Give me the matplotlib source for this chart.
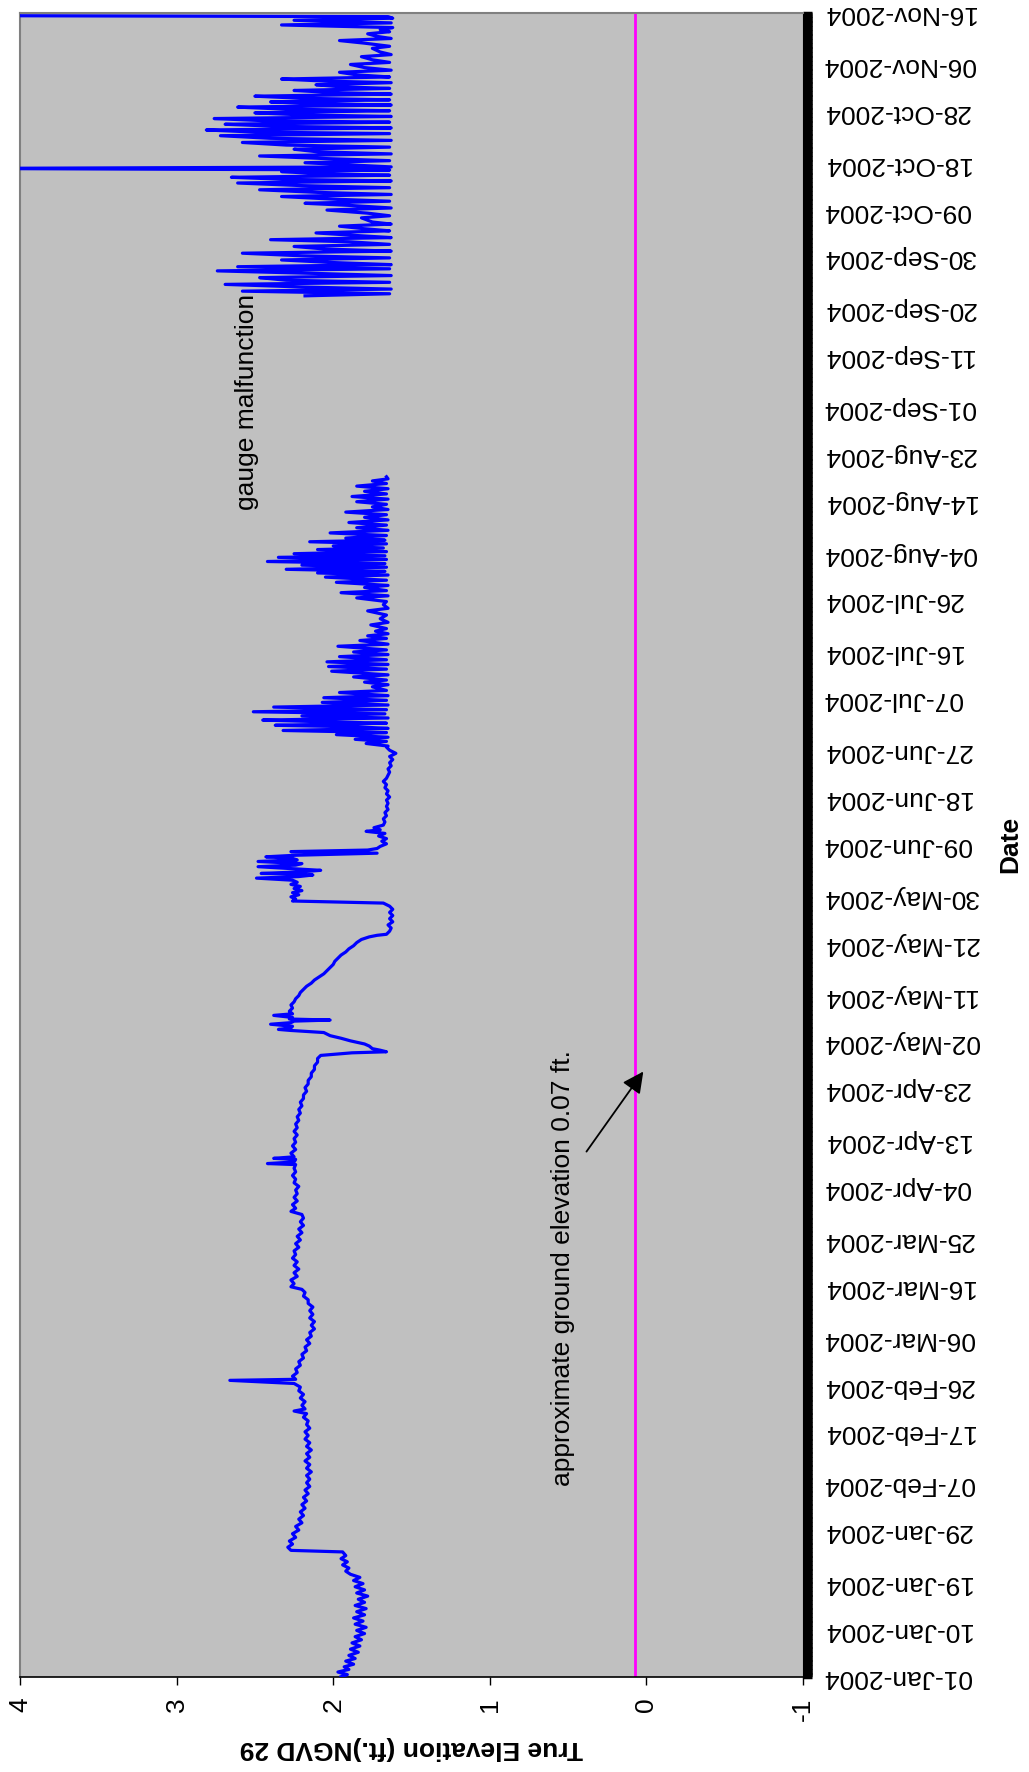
import numpy as np
import pandas as pd
import matplotlib
matplotlib.use('Agg')
import matplotlib.pyplot as plt
import matplotlib.dates as mdates
from matplotlib.ticker import FixedLocator

plt.rcParams['font.family'] = ['Liberation Sans', 'DejaVu Sans']
plt.rcParams['axes.unicode_minus'] = False

start = pd.Timestamp('2004-01-01')

# stage readings, days since 01-Jan-2004 / elevation in ft NGVD 29
winter_days = [0.0, 0.4, 0.9, 1.4, 1.9, 2.4, 3.0, 3.5, 4.1, 4.7, 5.3, 5.9, 6.5, 7.1, 7.7, 8.3, 8.9, 9.5,
               10.1, 10.7, 11.3, 11.9, 12.5, 13.1, 13.7, 14.3, 14.9, 15.5, 16.1, 16.7, 17.3, 17.9, 18.5,
               19.1, 19.7, 20.3, 20.9, 21.5, 22.1, 22.7, 23.3, 24.0, 24.3, 24.9, 25.5, 26.1, 26.8, 27.5,
               28.2, 28.9, 29.6, 30.3, 31.0, 31.7, 32.4, 33.1, 33.8, 34.5, 35.2, 35.9, 36.6, 37.3, 38.0,
               38.7, 39.4, 40.1, 40.8, 41.5, 42.2, 42.9, 43.6, 44.3, 45.0, 45.7, 46.4, 47.1, 47.8, 48.5,
               49.2, 49.9, 50.6, 51.1, 51.5, 52.2, 52.9, 53.6, 54.3, 55.0, 55.7, 56.4, 57.0, 57.2, 57.8,
               58.5, 59.2, 59.9, 60.6, 61.3, 62.0, 62.7, 63.4, 64.1, 64.8, 65.5, 66.2, 66.9, 67.6, 68.3,
               69.0, 69.7, 70.4, 71.1, 71.8, 72.5, 73.2, 73.9, 74.5, 75.0, 75.6, 76.3, 77.0, 77.7, 78.4,
               79.1, 79.8, 80.5, 81.2, 81.9, 82.6, 83.3, 84.0, 84.7, 85.4, 86.1, 86.8, 87.5, 88.2, 88.9,
               89.5, 90.1, 90.8, 91.5, 92.2, 92.9, 93.6, 94.3, 95.0, 95.7, 96.4, 97.1, 97.8, 98.5, 98.7,
               99.0, 99.5, 99.7, 100.0, 100.7, 101.4, 102.1, 102.8, 103.5, 104.2, 104.9, 105.6, 106.3,
               107.0, 107.7, 108.4, 109.1, 109.8, 110.5, 111.2, 111.9, 112.6, 113.3, 114.0, 114.7, 115.4,
               116.1, 116.8, 117.5, 118.2, 118.9, 119.5]
winter_elev = [1.95, 1.91, 1.97, 1.90, 1.93, 1.87, 1.92, 1.86, 1.90, 1.84, 1.89, 1.83, 1.88, 1.82, 1.86, 1.80,
               1.85, 1.79, 1.86, 1.81, 1.87, 1.80, 1.85, 1.79, 1.86, 1.80, 1.84, 1.78, 1.85, 1.80, 1.86, 1.81,
               1.87, 1.83, 1.89, 1.92, 1.90, 1.94, 1.91, 1.95, 1.92, 1.94, 2.27, 2.29, 2.26, 2.28, 2.24, 2.26,
               2.22, 2.24, 2.20, 2.22, 2.19, 2.21, 2.18, 2.20, 2.17, 2.19, 2.16, 2.18, 2.15, 2.17, 2.15, 2.17,
               2.14, 2.17, 2.15, 2.18, 2.15, 2.17, 2.14, 2.17, 2.15, 2.18, 2.16, 2.18, 2.15, 2.17, 2.16, 2.19,
               2.17, 2.25, 2.18, 2.20, 2.18, 2.21, 2.19, 2.22, 2.21, 2.25, 2.66, 2.24, 2.26, 2.23, 2.24, 2.21,
               2.22, 2.19, 2.20, 2.17, 2.18, 2.15, 2.17, 2.14, 2.15, 2.12, 2.14, 2.12, 2.15, 2.13, 2.15, 2.13,
               2.16, 2.16, 2.19, 2.18, 2.20, 2.27, 2.25, 2.27, 2.23, 2.25, 2.22, 2.25, 2.23, 2.26, 2.24, 2.25,
               2.22, 2.24, 2.21, 2.23, 2.20, 2.22, 2.19, 2.21, 2.19, 2.20, 2.27, 2.24, 2.26, 2.23, 2.25, 2.23,
               2.24, 2.22, 2.25, 2.24, 2.26, 2.24, 2.25, 2.24, 2.42, 2.25, 2.24, 2.38, 2.25, 2.27, 2.24, 2.26,
               2.24, 2.25, 2.23, 2.25, 2.23, 2.24, 2.22, 2.23, 2.21, 2.22, 2.20, 2.21, 2.19, 2.19, 2.17, 2.18,
               2.16, 2.16, 2.14, 2.14, 2.12, 2.12, 2.10, 2.10, 2.08]

spring_days = [120.0, 120.2, 120.5, 120.8, 121.3, 121.7, 122.3, 122.8, 123.3, 123.9, 124.3, 124.5, 124.8,
               125.1, 125.5, 125.8, 126.1, 126.3, 126.5, 126.8, 127.2, 127.5, 128.0, 128.6, 129.2, 129.8,
               130.4, 131.0, 131.6, 132.2, 132.8, 133.4, 134.0, 134.6, 135.2, 135.8, 136.4, 137.0, 137.6,
               138.2, 138.8, 139.4, 140.0, 140.6, 141.2, 141.8, 142.3, 142.6, 142.8, 143.4, 144.0, 144.6,
               145.2, 145.8, 146.4, 147.0, 147.6, 148.2, 148.8, 149.2, 149.6, 150.0, 150.4, 150.8, 151.2,
               151.6, 152.0, 152.4, 152.8, 153.2, 153.6, 153.9, 154.2, 154.4, 154.5, 154.8, 155.1, 155.4,
               155.8, 156.1, 156.4, 156.8, 157.1, 157.4, 157.7, 158.0, 158.4, 158.7, 159.0, 159.3, 159.7,
               160.2, 160.7, 161.2, 161.7, 162.2, 162.6, 162.9, 163.3, 163.8, 164.4, 165.0, 165.6, 166.2,
               166.8, 167.4, 168.0, 168.6, 169.2, 169.8, 170.4, 171.0, 171.6, 172.2, 172.8, 173.4, 174.0,
               174.6, 175.2, 175.8, 176.4, 177.0, 177.6, 178.2, 178.8]
spring_elev = [1.88, 1.66, 1.70, 1.75, 1.77, 1.80, 1.89, 1.95, 2.02, 2.06, 2.27, 2.35, 2.27, 2.26, 2.40, 2.27,
               2.25, 2.02, 2.28, 2.26, 2.38, 2.26, 2.28, 2.26, 2.27, 2.25, 2.24, 2.22, 2.21, 2.19, 2.17, 2.14,
               2.12, 2.09, 2.06, 2.04, 2.02, 2.00, 1.99, 1.97, 1.95, 1.92, 1.90, 1.87, 1.85, 1.82, 1.77, 1.72,
               1.66, 1.64, 1.63, 1.65, 1.62, 1.64, 1.62, 1.64, 1.62, 1.64, 1.68, 2.26, 2.24, 2.27, 2.22, 2.26,
               2.20, 2.25, 2.21, 2.27, 2.23, 2.26, 2.49, 2.22, 2.13, 2.24, 2.46, 2.21, 2.08, 2.25, 2.48, 2.24,
               2.20, 2.48, 2.23, 2.26, 2.43, 2.24, 1.72, 2.27, 1.78, 1.72, 1.70, 1.66, 1.69, 1.66, 1.71, 1.67,
               1.79, 1.70, 1.74, 1.68, 1.67, 1.68, 1.66, 1.67, 1.65, 1.66, 1.65, 1.66, 1.64, 1.66, 1.65, 1.67,
               1.66, 1.68, 1.66, 1.65, 1.64, 1.65, 1.63, 1.64, 1.62, 1.64, 1.60, 1.64, 1.66]

summer_days = [179.0, 179.5, 179.9, 180.3, 180.7, 181.2, 181.6, 182.0, 182.4, 182.7, 183.0, 183.4, 183.7,
               184.0, 184.4, 184.8, 185.2, 185.6, 186.0, 186.5, 186.9, 187.4, 187.8, 188.3, 188.7, 189.3,
               189.7, 190.4, 190.8, 191.3, 191.7, 192.3, 192.7, 193.4, 193.8, 194.3, 194.7, 195.2, 195.6,
               196.2, 196.6, 197.1, 197.5, 198.2, 198.6, 199.3, 199.7, 200.2, 200.6, 201.1, 201.6, 202.3,
               202.8, 203.5, 204.2, 205.0, 205.5, 206.2, 206.8, 207.5, 207.9, 208.5, 208.9, 209.5, 209.9,
               210.5, 210.9, 211.5, 211.9, 212.3, 212.6, 213.0, 213.4, 213.8, 214.1, 214.5, 214.9, 215.3,
               215.6, 216.0, 216.4, 216.8, 217.1, 217.5, 217.9, 218.3, 218.6, 219.0, 219.5, 220.0, 220.5,
               221.0, 221.5, 222.0, 222.5, 223.0, 223.5, 224.0, 224.5, 225.0, 225.5, 226.0, 226.5, 227.0,
               227.5, 228.0, 228.5, 229.0, 229.5, 230.0, 230.4, 230.8]
summer_elev = [1.65, 1.79, 1.66, 1.86, 1.65, 1.98, 1.66, 2.32, 1.65, 1.85, 2.37, 1.66, 2.10, 2.45, 1.65, 2.20,
               1.67, 2.51, 1.66, 2.38, 1.65, 2.07, 1.66, 2.06, 1.65, 1.96, 1.66, 1.75, 1.65, 1.80, 1.66, 1.87,
               1.65, 2.01, 1.66, 2.03, 1.65, 2.04, 1.66, 1.96, 1.65, 1.87, 1.66, 1.97, 1.65, 1.83, 1.66, 1.78,
               1.65, 1.73, 1.66, 1.76, 1.65, 1.70, 1.66, 1.78, 1.65, 1.68, 1.66, 1.85, 1.65, 1.95, 1.66, 1.80,
               1.65, 1.98, 1.66, 2.05, 1.65, 2.10, 1.67, 2.30, 1.66, 2.20, 1.67, 2.42, 1.66, 2.35, 1.67, 2.25,
               1.66, 2.10, 1.68, 2.00, 1.66, 2.15, 1.67, 1.92, 1.66, 2.02, 1.65, 1.85, 1.66, 1.90, 1.65, 1.80,
               1.66, 1.92, 1.65, 1.75, 1.66, 1.85, 1.65, 1.88, 1.66, 1.80, 1.65, 1.85, 1.66, 1.75, 1.65, 1.66]

fall_days = [265.6, 266.0, 266.5, 266.9, 267.3, 267.8, 268.2, 268.6, 269.1, 269.5, 269.9, 270.4, 270.8,
             271.2, 271.6, 272.0, 272.5, 272.9, 273.3, 273.8, 274.2, 274.6, 275.1, 275.5, 276.0, 276.4,
             276.8, 277.2, 277.7, 278.1, 278.5, 279.0, 279.4, 279.8, 280.6, 281.0, 281.5, 282.1, 282.5,
             283.0, 283.4, 283.8, 284.2, 284.7, 285.1, 285.5, 286.0, 286.4, 286.8, 287.3, 287.7, 288.0,
             288.4, 288.8, 289.1, 289.5, 289.8, 290.1, 290.4, 290.8, 291.2, 291.6, 292.0, 292.5, 292.9,
             293.3, 293.8, 294.2, 294.6, 295.1, 295.5, 295.9, 296.4, 296.8, 297.1, 297.5, 297.9, 298.2,
             298.6, 299.0, 299.3, 299.7, 300.1, 300.4, 300.8, 301.2, 301.5, 301.9, 302.3, 302.6, 302.9,
             303.3, 303.6, 304.0, 304.4, 304.7, 305.1, 305.5, 305.8, 306.2, 306.6, 306.9, 307.3, 307.7,
             308.1, 308.6, 309.0, 309.5, 310.1, 310.5, 311.0, 311.6, 312.0, 312.5, 313.2, 313.6, 314.2,
             314.7, 315.1, 315.5, 316.0, 316.4, 316.8, 317.2, 317.7, 318.1, 318.6, 319.0, 319.3, 319.5]
fall_elev = [2.18, 1.64, 2.58, 1.63, 2.20, 2.69, 1.64, 2.30, 2.47, 1.63, 2.10, 2.74, 1.64, 2.61, 1.63, 2.00,
             2.33, 1.64, 2.20, 2.58, 1.63, 2.05, 2.25, 1.64, 1.90, 2.40, 1.63, 1.85, 2.11, 1.64, 1.80, 1.96,
             1.63, 1.75, 1.82, 1.64, 1.78, 2.04, 1.63, 1.90, 2.18, 1.64, 2.00, 2.33, 1.63, 2.10, 2.47, 1.64,
             2.20, 2.61, 1.63, 2.30, 2.65, 1.64, 2.10, 2.33, 1.64, 4.40, 1.63, 1.90, 2.18, 1.64, 2.05, 2.47,
             1.63, 2.10, 2.25, 1.64, 2.30, 2.58, 1.63, 2.40, 2.72, 1.64, 2.50, 2.81, 1.63, 2.35, 2.69, 1.64,
             2.45, 2.76, 1.63, 2.20, 2.50, 1.64, 2.30, 2.61, 1.63, 2.15, 2.40, 1.64, 2.20, 2.50, 1.63, 2.00,
             2.25, 1.64, 1.95, 2.11, 1.63, 2.05, 2.33, 1.64, 1.85, 1.96, 1.63, 1.80, 1.89, 1.64, 1.75, 1.82,
             1.63, 1.70, 1.75, 1.64, 1.80, 1.96, 1.63, 1.72, 1.78, 1.64, 1.70, 1.62, 2.33, 1.63, 2.25, 1.62,
             1.65, 4.40]

ground_elev = 0.07

date_labels = ['01-Jan-2004', '10-Jan-2004', '19-Jan-2004', '29-Jan-2004', '07-Feb-2004', '17-Feb-2004',
               '26-Feb-2004', '06-Mar-2004', '16-Mar-2004', '25-Mar-2004', '04-Apr-2004', '13-Apr-2004',
               '23-Apr-2004', '02-May-2004', '11-May-2004', '21-May-2004', '30-May-2004', '09-Jun-2004',
               '18-Jun-2004', '27-Jun-2004', '07-Jul-2004', '16-Jul-2004', '26-Jul-2004', '04-Aug-2004',
               '14-Aug-2004', '23-Aug-2004', '01-Sep-2004', '11-Sep-2004', '20-Sep-2004', '30-Sep-2004',
               '09-Oct-2004', '18-Oct-2004', '28-Oct-2004', '06-Nov-2004', '16-Nov-2004']
elev_ticks = [4, 3, 2, 1, 0, -1]


def to_dates(days):
    return start + pd.to_timedelta(np.asarray(days, dtype=float), unit='D')


# first record runs continuously through 23-Aug, then a gap (gauge malfunction)
part1_days = winter_days + spring_days + summer_days
part1_elev = winter_elev + spring_elev + summer_elev

fig = plt.figure(figsize=(10.29, 17.72), dpi=100)
ax = fig.add_axes([0.01944, 0.05378, 0.7610, 0.93888])
ax.set_facecolor('#C0C0C0')

ax.axvline(ground_elev, color='#FF00FF', lw=2, zorder=2)
ax.plot(part1_elev, to_dates(part1_days), color='#0000FF', lw=2.3, zorder=3)
ax.plot(fall_elev, to_dates(fall_days), color='#0000FF', lw=2.3, zorder=3)

ax.set_xlim(4, -1)
ax.set_ylim(start, start + pd.Timedelta(days=320))

ax.set_xticks(elev_ticks)
ax.set_xticklabels([str(t) for t in elev_ticks])
ax.tick_params(axis='x', labelrotation=90, labelsize=19, length=6, width=1, pad=9, direction='out')

tick_dates = pd.to_datetime(date_labels, format='%d-%b-%Y')
ax.yaxis.tick_right()
ax.set_yticks(tick_dates)
ax.set_yticklabels(date_labels)
# daily tick marks are so dense they merge into a solid black band
ax.yaxis.set_minor_locator(FixedLocator(mdates.date2num(start) + np.arange(0, 320.01, 0.25)))
ax.tick_params(axis='y', which='major', labelsize=19, labelrotation=180, length=6.5, width=2.5, pad=8)
ax.tick_params(axis='y', which='minor', length=6.5, width=2.5, color='black')
for lbl in ax.get_yticklabels():
    lbl.set_va('center')

for side in ['left', 'top']:
    ax.spines[side].set_color('#808080')
    ax.spines[side].set_linewidth(1.5)
ax.spines['bottom'].set_color('black')
ax.spines['bottom'].set_linewidth(1.2)
ax.spines['right'].set_color('black')

ax.set_xlabel('True Elevation (ft.)NGVD 29', fontsize=19, fontweight='bold', rotation=180)
ax.xaxis.set_label_coords(0.5, -0.0429)
ax.xaxis.label.set_va('center')
ax.yaxis.set_label_position('right')
ax.set_ylabel('Date', fontsize=19, fontweight='bold', rotation=90)
ax.yaxis.set_label_coords(1.2644, 0.5)
ax.yaxis.label.set_va('center')
ax.yaxis.label.set_ha('center')

ax.text(2.55, to_dates([245.2])[0], 'gauge malfunction', rotation=90, ha='center', va='center', fontsize=19)
ax.text(0.534, to_dates([78.6])[0], 'approximate ground elevation 0.07 ft.', rotation=90,
        ha='center', va='center', fontsize=19)
ax.annotate('', xy=(0.02, to_dates([116.4])[0]), xytext=(0.383, to_dates([101.0])[0]),
            arrowprops=dict(arrowstyle='-|>', color='black', lw=1.3, mutation_scale=32,
                            shrinkA=0, shrinkB=0))

fig.savefig('out.png', dpi=100)
